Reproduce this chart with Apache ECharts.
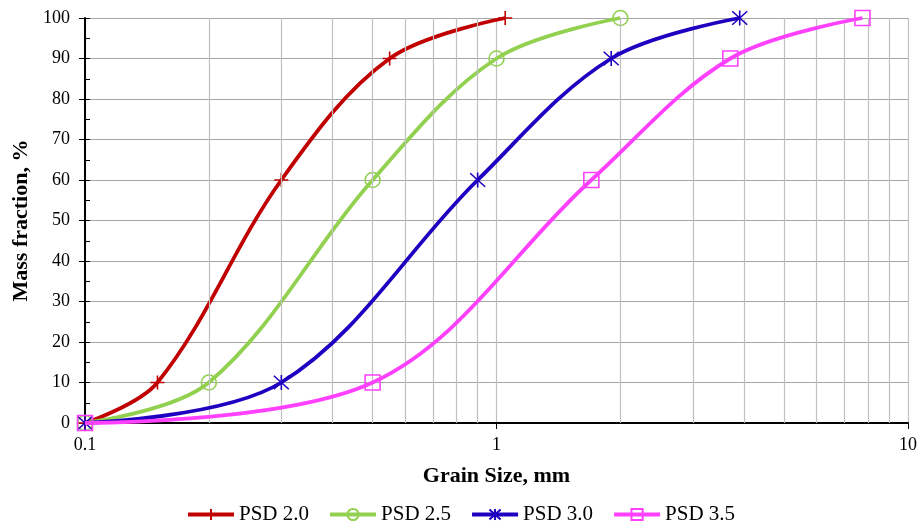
<!DOCTYPE html>
<html>
<head>
<meta charset="utf-8">
<script src="https://cdn.jsdelivr.net/npm/echarts@6/dist/echarts.min.js"></script>
<style>
html,body{margin:0;padding:0;background:#fff;}
#chart{width:917px;height:523px;}
</style>
</head>
<body>
<div id="chart"></div>
<script>
// Data (grain size in mm, mass fraction in %)
const seriesNames = ['PSD 2.0', 'PSD 2.5', 'PSD 3.0', 'PSD 3.5'];
const psd20x = [0.1, 0.15, 0.3, 0.55, 1.05];
const psd20y = [0, 10, 60, 90, 100];
const psd25x = [0.1, 0.2, 0.5, 1.0, 2.0];
const psd25y = [0, 10, 60, 90, 100];
const psd30x = [0.1, 0.3, 0.9, 1.9, 3.9];
const psd30y = [0, 10, 60, 90, 100];
const psd35x = [0.1, 0.5, 1.7, 3.7, 7.75];
const psd35y = [0, 10, 60, 90, 100];
const xTickLabels = ['0.1', '1', '10'];
const xMinorGrid = [0.2, 0.3, 0.4, 0.5, 0.6, 0.7, 0.8, 0.9, 2, 3, 4, 5, 6, 7, 8, 9];

const colors = ['#C00000', '#92D050', '#2000C0', '#FF40FF'];
const symbols = [
  'path://M0 5L10 5M5 0L5 10',
  'circle',
  'path://M0.5 0.5L9.5 9.5M9.5 0.5L0.5 9.5M5 0L5 10',
  'rect'
];
const symbolSizes = [14, 15, 15, 15];
const xs = [psd20x, psd25x, psd30x, psd35x];
const ys = [psd20y, psd25y, psd30y, psd35y];
const FONT = 'Liberation Serif';

const chart = echarts.init(document.getElementById('chart'));

const series = [{
  type: 'line',
  name: '_grid',
  data: [],
  z: 1,
  silent: true,
  markLine: {
    silent: true,
    symbol: 'none',
    animation: false,
    label: {show: false},
    lineStyle: {color: '#C0C0C0', width: 1.2, type: 'solid'},
    data: xMinorGrid.map(v => ({xAxis: v}))
  }
}];
seriesNames.forEach((n, i) => {
  series.push({
    type: 'line',
    name: n,
    z: 3 + i,
    smooth: 0.35,
    data: xs[i].map((x, j) => [x, ys[i][j]]),
    symbol: symbols[i],
    symbolSize: symbolSizes[i],
    showAllSymbol: true,
    lineStyle: {color: colors[i], width: 3.8},
    itemStyle: {color: 'rgba(0,0,0,0)', borderColor: colors[i], borderWidth: 1.6},
    emphasis: {disabled: true}
  });
});

chart.setOption({
  animation: false,
  backgroundColor: '#fff',
  grid: {left: 85, right: 9, top: 18, bottom: 100, containLabel: false, outerBoundsMode: 'none'},
  legend: {
    data: seriesNames,
    left: 186,
    top: 504,
    padding: 0,
    itemWidth: 46,
    itemHeight: 14,
    itemGap: 19,
    lineStyle: {width: 4},
    textStyle: {fontFamily: FONT, fontSize: 21, color: '#000'}
  },
  xAxis: {
    type: 'log',
    logBase: 10,
    min: 0.1,
    max: 10,
    name: 'Grain Size, mm',
    nameLocation: 'middle',
    nameGap: 42,
    nameTextStyle: {fontFamily: FONT, fontSize: 22, fontWeight: 'bold', color: '#000'},
    axisLine: {onZero: false, lineStyle: {color: '#000', width: 2}},
    axisTick: {show: true, inside: false, length: 6, lineStyle: {color: '#000', width: 1}},
    axisLabel: {
      margin: 13, fontFamily: FONT, fontSize: 18, color: '#000',
      formatter: v => {
        const k = Math.round(Math.log10(v)) + 1;
        return xTickLabels[k] !== undefined ? xTickLabels[k] : String(v);
      }
    },
    splitLine: {show: true, lineStyle: {color: '#C0C0C0', width: 1.2}},
    minorTick: {show: false},
    minorSplitLine: {show: false}
  },
  yAxis: [{
    type: 'value',
    min: 0,
    max: 100,
    interval: 10,
    position: 'left',
    name: 'Mass fraction, %',
    nameLocation: 'middle',
    nameGap: 50,
    nameTextStyle: {fontFamily: FONT, fontSize: 22, fontWeight: 'bold', color: '#000'},
    axisLine: {show: true, onZero: false, lineStyle: {color: '#000', width: 2}},
    axisTick: {show: true, inside: false, length: 6, lineStyle: {color: '#000', width: 1}},
    axisLabel: {margin: 15, fontFamily: FONT, fontSize: 18, color: '#000'},
    splitLine: {show: true, lineStyle: {color: '#A6A6A6', width: 1.2}}
  }, {
    type: 'value',
    min: 0,
    max: 100,
    interval: 5,
    position: 'left',
    offset: 0,
    axisLine: {show: false, onZero: false},
    axisTick: {show: true, inside: true, length: 5, lineStyle: {color: '#000', width: 1}},
    axisLabel: {show: false},
    splitLine: {show: false}
  }],
  series: series
});
</script>
</body>
</html>
